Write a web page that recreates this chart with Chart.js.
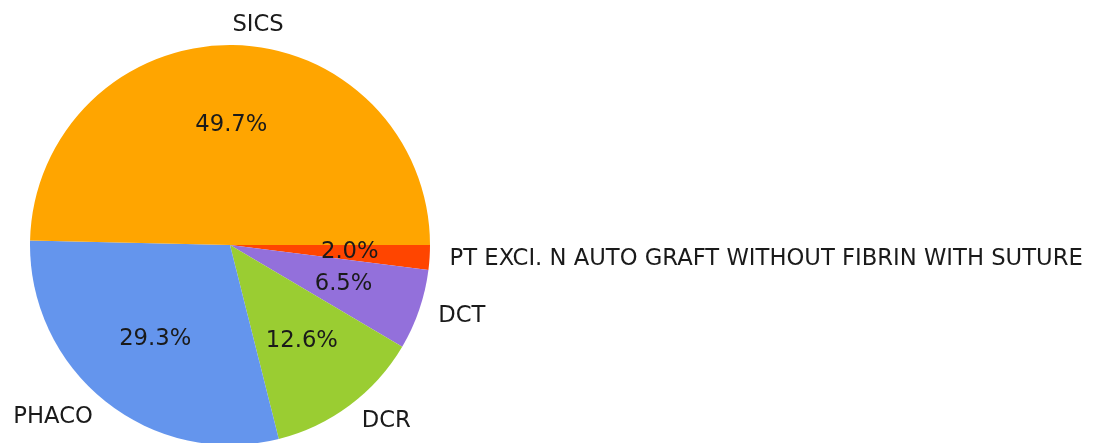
<!DOCTYPE html>
<html>
<head>
<meta charset="utf-8">
<script src="https://cdn.jsdelivr.net/npm/chart.js@4"></script>
<style>
    html, body { margin: 0; padding: 0; background: #fff; overflow: hidden; }
    #wrap { width: 1097px; height: 447px; }
</style>
</head>
<body>
<div id="wrap"><canvas id="chart"></canvas></div>
<script>
// slices listed clockwise from 3 o'clock (matplotlib drew them counter-clockwise)
const categories = ["PT EXCI. N AUTO GRAFT WITHOUT FIBRIN WITH SUTURE", "DCT", "DCR", "PHACO", "SICS"];
const shares = [2.0, 6.5, 12.6, 29.3, 49.7];
const sliceColors = ["#FF4500", "#9370DB", "#9ACD32", "#6495ED", "#FFA500"];

const fontFamily = "'DejaVu Sans', sans-serif";
const fontSize = 22.7;

// draws category names outside the pie and percentages inside, like matplotlib autopct
const pieLabels = {
    id: "pieLabels",
    afterDatasetsDraw(chart) {
        const ctx = chart.ctx;
        const arcs = chart.getDatasetMeta(0).data;
        ctx.save();
        ctx.font = fontSize + "px " + fontFamily;
        ctx.fillStyle = "#1a1a1a";
        ctx.textBaseline = "middle";
        arcs.forEach(function(arc, i) {
            const mid = (arc.startAngle + arc.endAngle) / 2;
            const r = arc.outerRadius;
            const cx = Math.cos(mid), cy = Math.sin(mid);

            ctx.textAlign = cx > 0 ? "left" : "right";
            ctx.fillText(categories[i], arc.x + 1.1 * r * cx, arc.y + 1.1 * r * cy);

            ctx.textAlign = "center";
            ctx.fillText(shares[i].toFixed(1) + "%", arc.x + 0.6 * r * cx, arc.y + 0.6 * r * cy);
        });
        ctx.restore();
    }
};

new Chart(document.getElementById("chart"), {
    type: "pie",
    data: {
        labels: categories,
        datasets: [{
            data: shares,
            backgroundColor: sliceColors,
            borderWidth: 0
        }]
    },
    options: {
        responsive: true,
        maintainAspectRatio: false,
        animation: false,
        rotation: 90,
        layout: {
            padding: { left: 30, top: 45, right: 667, bottom: 2 }
        },
        plugins: {
            legend: { display: false },
            tooltip: { enabled: false }
        }
    },
    plugins: [pieLabels]
});
</script>
</body>
</html>
